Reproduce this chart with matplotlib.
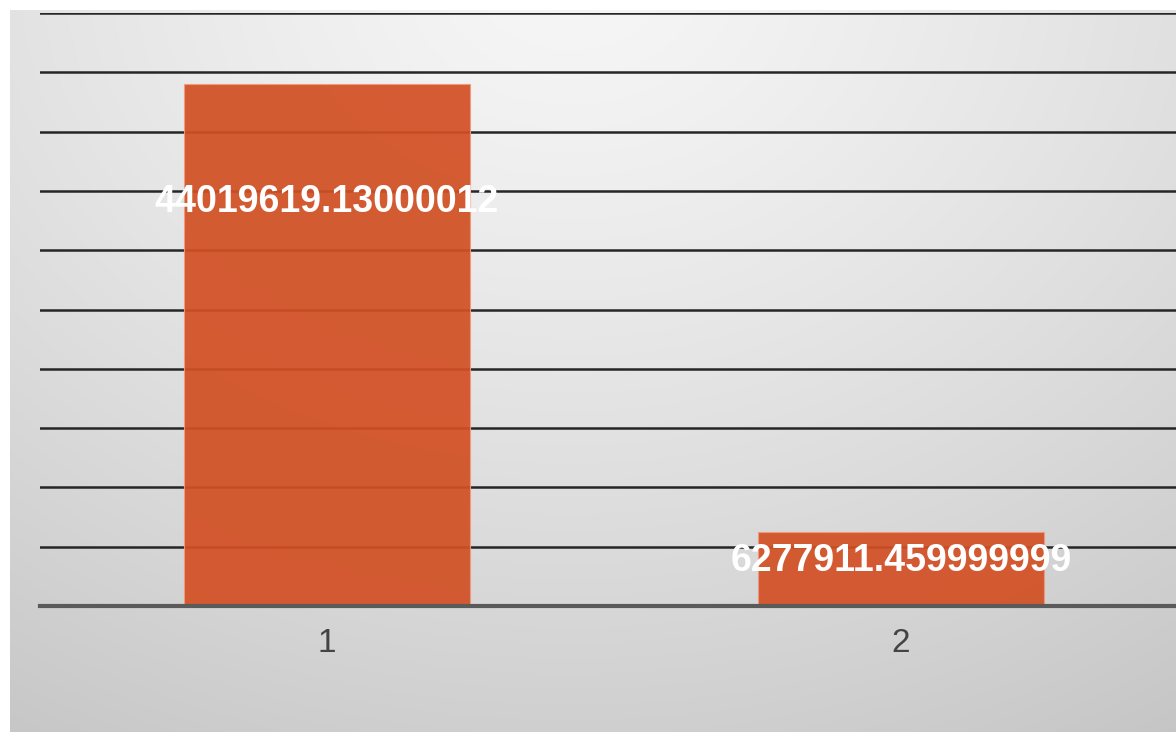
import numpy as np
import matplotlib
matplotlib.use("Agg")
import matplotlib.pyplot as plt

categories = ["1", "2"]
values = [44019619.13000012, 6277911.459999999]
value_labels = ["44019619.13000012", "6277911.459999999"]
grid_ticks = list(range(0, 50_000_001, 5_000_000))

W, H = 1176, 732
fig = plt.figure(figsize=(W / 100, H / 100), dpi=100)
fig.patch.set_facecolor("white")

# gradient background panel
bg = fig.add_axes([10 / W, 0, (W - 10) / W, (H - 10) / H], zorder=0)
yy, xx = np.mgrid[0:722, 0:1166]
cx, cy = 560, -40
r = np.sqrt(((xx - cx) / 1.25) ** 2 + (yy - cy) ** 2)
r = r / r.max()
g = 0.965 - 0.19 * r ** 1.3
img = np.dstack([g, g, g])
bg.imshow(img, aspect="auto", interpolation="bilinear")
bg.axis("off")

ax = fig.add_axes([40 / W, (H - 606) / H, (1188 - 40) / W, (606 - 13) / H], zorder=1)
ax.patch.set_alpha(0)
x = np.arange(1, len(values) + 1)
bars = ax.bar(x, values, width=0.497, color=(0.825, 0.315, 0.14), alpha=0.93,
              edgecolor=(0.95, 0.6, 0.5, 0.4), linewidth=0.8, zorder=3)
ax.set_xlim(0.5, 2.5)
ax.set_ylim(0, 50_000_000)
ax.set_yticks(grid_ticks)
ax.yaxis.grid(True, color="#262626", linewidth=1.8, zorder=1)
ax.set_axisbelow(True)
ax.axhline(0, color="#5a5a5a", linewidth=3, zorder=4, clip_on=False)
ax.tick_params(axis="y", left=False, labelleft=False)
ax.set_xticks(x)
ax.set_xticklabels(categories, fontsize=24, color="#444444", family="Liberation Sans")
ax.tick_params(axis="x", bottom=False, pad=12)
for s in ax.spines.values():
    s.set_visible(False)

label_offsets = [85, 21]
for xi, v, lab, off in zip(x, values, value_labels, label_offsets):
    ax.annotate(lab, (xi, v), xytext=(0, -off), textcoords="offset points",
                ha="center", va="center", color="white", fontsize=27,
                fontweight="bold", family="Liberation Sans", zorder=5)

fig.savefig("out.png", dpi=100)
